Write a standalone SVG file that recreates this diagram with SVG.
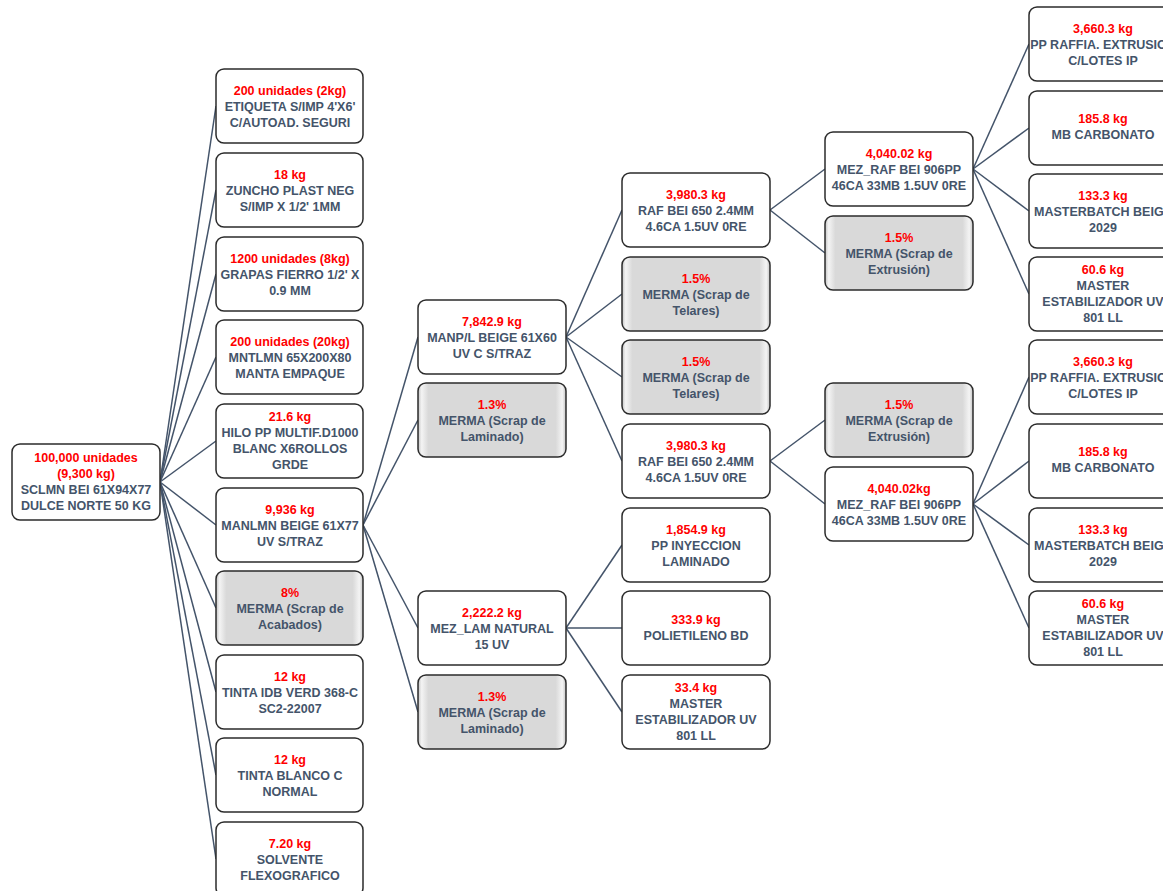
<svg xmlns="http://www.w3.org/2000/svg" width="1163" height="891" viewBox="0 0 1163 891">
<defs>
<linearGradient id="bevel" x1="0" y1="0" x2="1" y2="0">
<stop offset="0" stop-color="#c4c4c4"/>
<stop offset="0.025" stop-color="#f4f4f4"/>
<stop offset="0.07" stop-color="#d9d9d9"/>
<stop offset="0.93" stop-color="#d9d9d9"/>
<stop offset="0.975" stop-color="#f4f4f4"/>
<stop offset="1" stop-color="#c4c4c4"/>
</linearGradient>
</defs>
<style>
.box{fill:#ffffff;stroke:#2b2b2b;stroke-width:1.5}
.gray{fill:url(#bevel);stroke:#2b2b2b;stroke-width:1.5}
text{font-family:"Liberation Sans",Arial,sans-serif;font-weight:bold;font-size:12.5px;text-anchor:middle;fill:#44546A}
.r{fill:#FF0000}
.conn line{stroke:#44546A;stroke-width:1.5}
</style>
<rect width="1163" height="891" fill="#ffffff"/>
<g id="connectors" class="conn">
<line x1="160" y1="482" x2="216" y2="106"/>
<line x1="160" y1="482" x2="216" y2="190"/>
<line x1="160" y1="482" x2="216" y2="274"/>
<line x1="160" y1="482" x2="216" y2="357"/>
<line x1="160" y1="482" x2="216" y2="441"/>
<line x1="160" y1="482" x2="216" y2="525"/>
<line x1="160" y1="482" x2="216" y2="608"/>
<line x1="160" y1="482" x2="216" y2="692"/>
<line x1="160" y1="482" x2="216" y2="775"/>
<line x1="160" y1="482" x2="216" y2="859"/>
<line x1="363" y1="525" x2="418" y2="337"/>
<line x1="363" y1="525" x2="418" y2="420"/>
<line x1="363" y1="525" x2="418" y2="628"/>
<line x1="363" y1="525" x2="418" y2="712"/>
<line x1="566" y1="337" x2="622" y2="210"/>
<line x1="566" y1="337" x2="622" y2="294"/>
<line x1="566" y1="337" x2="622" y2="377"/>
<line x1="566" y1="337" x2="622" y2="461"/>
<line x1="566" y1="628" x2="622" y2="545"/>
<line x1="566" y1="628" x2="622" y2="628"/>
<line x1="566" y1="628" x2="622" y2="712"/>
<line x1="770" y1="210" x2="825" y2="169"/>
<line x1="770" y1="210" x2="825" y2="253"/>
<line x1="770" y1="461" x2="825" y2="420"/>
<line x1="770" y1="461" x2="825" y2="504"/>
<line x1="973" y1="169" x2="1029" y2="44"/>
<line x1="973" y1="169" x2="1029" y2="128"/>
<line x1="973" y1="169" x2="1029" y2="211"/>
<line x1="973" y1="169" x2="1029" y2="294"/>
<line x1="973" y1="504" x2="1029" y2="377"/>
<line x1="973" y1="504" x2="1029" y2="461"/>
<line x1="973" y1="504" x2="1029" y2="545"/>
<line x1="973" y1="504" x2="1029" y2="628"/>
</g>

<g id="root">
<rect class="box" x="12" y="444" width="148" height="76" rx="8"/>
<text x="86" y="462"><tspan class="r">100,000 unidades</tspan><tspan x="86" dy="16" class="r">(9,300 kg)</tspan><tspan x="86" dy="16">SCLMN BEI 61X94X77</tspan><tspan x="86" dy="16">DULCE NORTE 50 KG</tspan></text>
</g>

<g id="n_etiqueta">
<rect class="box" x="216" y="69" width="147" height="74" rx="8"/>
<text x="290" y="95"><tspan class="r">200 unidades (2kg)</tspan><tspan x="290" dy="16">ETIQUETA S/IMP 4'X6'</tspan><tspan x="290" dy="16">C/AUTOAD. SEGURI</tspan></text>
</g>
<g id="n_zuncho">
<rect class="box" x="216" y="153" width="147" height="74" rx="8"/>
<text x="290" y="179"><tspan class="r">18 kg</tspan><tspan x="290" dy="16">ZUNCHO PLAST NEG</tspan><tspan x="290" dy="16">S/IMP X 1/2' 1MM</tspan></text>
</g>
<g id="n_grapas">
<rect class="box" x="216" y="237" width="147" height="74" rx="8"/>
<text x="290" y="263"><tspan class="r">1200 unidades (8kg)</tspan><tspan x="290" dy="16">GRAPAS FIERRO 1/2' X</tspan><tspan x="290" dy="16">0.9 MM</tspan></text>
</g>
<g id="n_mntlmn">
<rect class="box" x="216" y="320" width="147" height="74" rx="8"/>
<text x="290" y="346"><tspan class="r">200 unidades (20kg)</tspan><tspan x="290" dy="16">MNTLMN 65X200X80</tspan><tspan x="290" dy="16">MANTA EMPAQUE</tspan></text>
</g>
<g id="n_hilo">
<rect class="box" x="216" y="404" width="147" height="74" rx="8"/>
<text x="290" y="421"><tspan class="r">21.6 kg</tspan><tspan x="290" dy="16">HILO PP MULTIF.D1000</tspan><tspan x="290" dy="16">BLANC X6ROLLOS</tspan><tspan x="290" dy="16">GRDE</tspan></text>
</g>
<g id="n_manlmn">
<rect class="box" x="216" y="488" width="147" height="74" rx="8"/>
<text x="290" y="514"><tspan class="r">9,936 kg</tspan><tspan x="290" dy="16">MANLMN BEIGE 61X77</tspan><tspan x="290" dy="16">UV S/TRAZ</tspan></text>
</g>
<g id="n_merma_acabados">
<rect class="gray" x="216" y="571" width="147" height="74" rx="8"/>
<text x="290" y="597"><tspan class="r">8%</tspan><tspan x="290" dy="16">MERMA (Scrap de</tspan><tspan x="290" dy="16">Acabados)</tspan></text>
</g>
<g id="n_tinta_verd">
<rect class="box" x="216" y="655" width="147" height="74" rx="8"/>
<text x="290" y="681"><tspan class="r">12 kg</tspan><tspan x="290" dy="16">TINTA IDB VERD 368-C</tspan><tspan x="290" dy="16">SC2-22007</tspan></text>
</g>
<g id="n_tinta_blanco">
<rect class="box" x="216" y="738" width="147" height="74" rx="8"/>
<text x="290" y="764"><tspan class="r">12 kg</tspan><tspan x="290" dy="16">TINTA BLANCO C</tspan><tspan x="290" dy="16">NORMAL</tspan></text>
</g>
<g id="n_solvente">
<rect class="box" x="216" y="822" width="147" height="74" rx="8"/>
<text x="290" y="848"><tspan class="r">7.20 kg</tspan><tspan x="290" dy="16">SOLVENTE</tspan><tspan x="290" dy="16">FLEXOGRAFICO</tspan></text>
</g>

<g id="n_manpl">
<rect class="box" x="418" y="300" width="148" height="74" rx="8"/>
<text x="492" y="326"><tspan class="r">7,842.9 kg</tspan><tspan x="492" dy="16">MANP/L BEIGE 61X60</tspan><tspan x="492" dy="16">UV C S/TRAZ</tspan></text>
</g>
<g id="n_merma_lam1">
<rect class="gray" x="418" y="383" width="148" height="74" rx="8"/>
<text x="492" y="409"><tspan class="r">1.3%</tspan><tspan x="492" dy="16">MERMA (Scrap de</tspan><tspan x="492" dy="16">Laminado)</tspan></text>
</g>
<g id="n_mezlam">
<rect class="box" x="418" y="591" width="148" height="74" rx="8"/>
<text x="492" y="617"><tspan class="r">2,222.2 kg</tspan><tspan x="492" dy="16">MEZ_LAM NATURAL</tspan><tspan x="492" dy="16">15 UV</tspan></text>
</g>
<g id="n_merma_lam2">
<rect class="gray" x="418" y="675" width="148" height="74" rx="8"/>
<text x="492" y="701"><tspan class="r">1.3%</tspan><tspan x="492" dy="16">MERMA (Scrap de</tspan><tspan x="492" dy="16">Laminado)</tspan></text>
</g>

<g id="n_raf1">
<rect class="box" x="622" y="173" width="148" height="74" rx="8"/>
<text x="696" y="199"><tspan class="r">3,980.3 kg</tspan><tspan x="696" dy="16">RAF BEI 650 2.4MM</tspan><tspan x="696" dy="16">4.6CA 1.5UV 0RE</tspan></text>
</g>
<g id="n_merma_tel1">
<rect class="gray" x="622" y="257" width="148" height="74" rx="8"/>
<text x="696" y="283"><tspan class="r">1.5%</tspan><tspan x="696" dy="16">MERMA (Scrap de</tspan><tspan x="696" dy="16">Telares)</tspan></text>
</g>
<g id="n_merma_tel2">
<rect class="gray" x="622" y="340" width="148" height="74" rx="8"/>
<text x="696" y="366"><tspan class="r">1.5%</tspan><tspan x="696" dy="16">MERMA (Scrap de</tspan><tspan x="696" dy="16">Telares)</tspan></text>
</g>
<g id="n_raf2">
<rect class="box" x="622" y="424" width="148" height="74" rx="8"/>
<text x="696" y="450"><tspan class="r">3,980.3 kg</tspan><tspan x="696" dy="16">RAF BEI 650 2.4MM</tspan><tspan x="696" dy="16">4.6CA 1.5UV 0RE</tspan></text>
</g>
<g id="n_ppiny">
<rect class="box" x="622" y="508" width="148" height="74" rx="8"/>
<text x="696" y="534"><tspan class="r">1,854.9 kg</tspan><tspan x="696" dy="16">PP INYECCION</tspan><tspan x="696" dy="16">LAMINADO</tspan></text>
</g>
<g id="n_polietileno">
<rect class="box" x="622" y="591" width="148" height="74" rx="8"/>
<text x="696" y="624"><tspan class="r">333.9 kg</tspan><tspan x="696" dy="16">POLIETILENO BD</tspan></text>
</g>
<g id="n_master_lam">
<rect class="box" x="622" y="675" width="148" height="74" rx="8"/>
<text x="696" y="692"><tspan class="r">33.4 kg</tspan><tspan x="696" dy="16">MASTER</tspan><tspan x="696" dy="16">ESTABILIZADOR UV</tspan><tspan x="696" dy="16">801 LL</tspan></text>
</g>

<g id="n_mezraf1">
<rect class="box" x="825" y="132" width="148" height="74" rx="8"/>
<text x="899" y="158"><tspan class="r">4,040.02 kg</tspan><tspan x="899" dy="16">MEZ_RAF BEI 906PP</tspan><tspan x="899" dy="16">46CA 33MB 1.5UV 0RE</tspan></text>
</g>
<g id="n_merma_ext1">
<rect class="gray" x="825" y="216" width="148" height="74" rx="8"/>
<text x="899" y="242"><tspan class="r">1.5%</tspan><tspan x="899" dy="16">MERMA (Scrap de</tspan><tspan x="899" dy="16">Extrusión)</tspan></text>
</g>
<g id="n_merma_ext2">
<rect class="gray" x="825" y="383" width="148" height="74" rx="8"/>
<text x="899" y="409"><tspan class="r">1.5%</tspan><tspan x="899" dy="16">MERMA (Scrap de</tspan><tspan x="899" dy="16">Extrusión)</tspan></text>
</g>
<g id="n_mezraf2">
<rect class="box" x="825" y="467" width="148" height="74" rx="8"/>
<text x="899" y="493"><tspan class="r">4,040.02kg</tspan><tspan x="899" dy="16">MEZ_RAF BEI 906PP</tspan><tspan x="899" dy="16">46CA 33MB 1.5UV 0RE</tspan></text>
</g>

<g id="n_ppraffia1">
<rect class="box" x="1029" y="7" width="148" height="74" rx="8"/>
<text x="1103" y="33"><tspan class="r">3,660.3 kg</tspan><tspan x="1103" dy="16">PP RAFFIA. EXTRUSION</tspan><tspan x="1103" dy="16">C/LOTES IP</tspan></text>
</g>
<g id="n_mbcarb1">
<rect class="box" x="1029" y="91" width="148" height="74" rx="8"/>
<text x="1103" y="123"><tspan class="r">185.8 kg</tspan><tspan x="1103" dy="16">MB CARBONATO</tspan></text>
</g>
<g id="n_mbbeige1">
<rect class="box" x="1029" y="174" width="148" height="74" rx="8"/>
<text x="1103" y="200"><tspan class="r">133.3 kg</tspan><tspan x="1103" dy="16">MASTERBATCH BEIGE</tspan><tspan x="1103" dy="16">2029</tspan></text>
</g>
<g id="n_master1">
<rect class="box" x="1029" y="257" width="148" height="74" rx="8"/>
<text x="1103" y="274"><tspan class="r">60.6 kg</tspan><tspan x="1103" dy="16">MASTER</tspan><tspan x="1103" dy="16">ESTABILIZADOR UV</tspan><tspan x="1103" dy="16">801 LL</tspan></text>
</g>
<g id="n_ppraffia2">
<rect class="box" x="1029" y="340" width="148" height="74" rx="8"/>
<text x="1103" y="366"><tspan class="r">3,660.3 kg</tspan><tspan x="1103" dy="16">PP RAFFIA. EXTRUSION</tspan><tspan x="1103" dy="16">C/LOTES IP</tspan></text>
</g>
<g id="n_mbcarb2">
<rect class="box" x="1029" y="424" width="148" height="74" rx="8"/>
<text x="1103" y="456"><tspan class="r">185.8 kg</tspan><tspan x="1103" dy="16">MB CARBONATO</tspan></text>
</g>
<g id="n_mbbeige2">
<rect class="box" x="1029" y="508" width="148" height="74" rx="8"/>
<text x="1103" y="534"><tspan class="r">133.3 kg</tspan><tspan x="1103" dy="16">MASTERBATCH BEIGE</tspan><tspan x="1103" dy="16">2029</tspan></text>
</g>
<g id="n_master2">
<rect class="box" x="1029" y="591" width="148" height="74" rx="8"/>
<text x="1103" y="608"><tspan class="r">60.6 kg</tspan><tspan x="1103" dy="16">MASTER</tspan><tspan x="1103" dy="16">ESTABILIZADOR UV</tspan><tspan x="1103" dy="16">801 LL</tspan></text>
</g>
</svg>
